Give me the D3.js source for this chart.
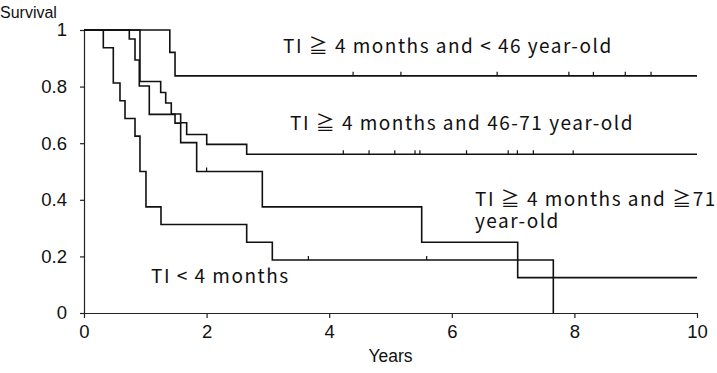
<!DOCTYPE html>
<html>
<head>
<meta charset="utf-8">
<script src="https://cdn.jsdelivr.net/npm/d3@7"></script>
<style>
  body { margin: 0; background: #fff; }
  svg { display: block; }
</style>
</head>
<body>
<div id="chart"></div>
<script>
// x / y ticks
const xTicks = [0, 2, 4, 6, 8, 10];
const yTicks = [0, 0.2, 0.4, 0.6, 0.8, 1];

// TI >= 4 months and < 46 year-old
const lt46Times = [0, 1.40, 1.485];
const lt46Surv = [1, 0.921, 0.838];
const lt46Censor = [4.39, 5.17, 6.74, 7.91, 8.31, 8.83, 9.25];

// TI >= 4 months and 46-71 year-old
const mid46Times = [0, 0.913, 1.251, 1.333, 1.424, 1.577, 1.675, 2.002, 2.654];
const mid46Surv = [1, 0.818, 0.779, 0.742, 0.703, 0.672, 0.631, 0.596, 0.561];
const mid46Censor = [4.23, 4.65, 5.07, 5.40, 5.48, 6.24, 6.92, 7.07, 7.33, 7.98];

// TI >= 4 months and >= 71 year-old
const ge71Times = [0, 0.739, 0.832, 0.902, 1.065, 1.485, 1.577, 1.838, 2.909, 5.509, 7.075];
const ge71Surv = [1, 0.968, 0.894, 0.802, 0.702, 0.671, 0.602, 0.5, 0.375, 0.25, 0.125];
const ge71Censor = [2.0];

// TI < 4 months
const lt4Times = [0, 0.315, 0.478, 0.587, 0.669, 0.832, 0.913, 1.011, 1.256, 2.654, 3.072, 7.656];
const lt4Surv = [1, 0.9375, 0.8125, 0.75, 0.6875, 0.625, 0.5, 0.375, 0.3125, 0.25, 0.1875, 0];
const lt4Censor = [3.66, 5.59];

const width = 717;
const height = 373;
const margin = { top: 30, right: 20, bottom: 60, left: 84 };

const svg = d3.select("#chart").append("svg")
  .attr("width", width)
  .attr("height", height);

const x = d3.scaleLinear().domain([0, 10]).range([margin.left, width - margin.right]);
const y = d3.scaleLinear().domain([0, 1]).range([height - margin.bottom, margin.top]);

const numFont = "'Liberation Sans', Arial, sans-serif";
const labelFont = "'Noto Sans CJK JP', 'Noto Sans', sans-serif";

// axes
svg.append("g")
  .attr("transform", `translate(${margin.left},0)`)
  .call(d3.axisLeft(y).tickValues(yTicks).tickSize(4).tickSizeOuter(0).tickPadding(13)
    .tickFormat((d) => (d === 0 || d === 1 ? String(d) : d.toFixed(1))));

svg.append("g")
  .attr("transform", `translate(0,${y(0)})`)
  .call(d3.axisBottom(x).tickValues(xTicks).tickSize(5).tickSizeOuter(0).tickPadding(7));

svg.selectAll(".tick text")
  .attr("fill", "#111")
  .style("font-family", numFont)
  .style("font-size", "18.5px");
svg.selectAll(".domain, .tick line").attr("stroke", "#222").attr("stroke-width", 1.2);

svg.append("text")
  .attr("x", 0)
  .attr("y", 18)
  .style("font-family", numFont)
  .style("font-size", "16px")
  .attr("fill", "#111")
  .text("Survival");

svg.append("text")
  .attr("x", (x(0) + x(10)) / 2)
  .attr("y", 362)
  .attr("text-anchor", "middle")
  .style("font-family", numFont)
  .style("font-size", "17.5px")
  .attr("fill", "#111")
  .text("Years");

// curves
const groups = [
  { times: lt46Times, surv: lt46Surv, censor: lt46Censor, end: 10 },
  { times: mid46Times, surv: mid46Surv, censor: mid46Censor, end: 10 },
  { times: ge71Times, surv: ge71Surv, censor: ge71Censor, end: 10 },
  { times: lt4Times, surv: lt4Surv, censor: lt4Censor, end: null },
];

const line = d3.line()
  .x((d) => x(d[0]))
  .y((d) => y(d[1]))
  .curve(d3.curveStepAfter);

groups.forEach((g) => {
  const pts = g.times.map((t, i) => [t, g.surv[i]]);
  if (g.end !== null) pts.push([g.end, g.surv[g.surv.length - 1]]);
  svg.append("path")
    .attr("d", line(pts))
    .attr("fill", "none")
    .attr("stroke", "#111")
    .attr("stroke-width", 1.6);

  // censor marks
  const stepS = (t) => {
    let s = 1;
    g.times.forEach((tt, i) => { if (tt <= t) s = g.surv[i]; });
    return s;
  };
  svg.append("g")
    .selectAll("line")
    .data(g.censor)
    .join("line")
    .attr("x1", (d) => x(d))
    .attr("x2", (d) => x(d))
    .attr("y1", (d) => y(stepS(d)))
    .attr("y2", (d) => y(stepS(d)) - 4)
    .attr("stroke", "#111")
    .attr("stroke-width", 1.2);
});

// curve labels (one entry per text block, lines as tspans)
const labels = [
  { lines: ["TI ≧ 4 months and < 46 year-old"], x: 283, y: 53 },
  { lines: ["TI ≧ 4 months and 46-71 year-old"], x: 290, y: 130 },
  { lines: ["TI ≧ 4 months and ≧71", "year-old"], x: 475, y: 206 },
  { lines: ["TI < 4 months"], x: 151, y: 283 },
];

svg.append("g")
  .selectAll("text")
  .data(labels)
  .join("text")
  .attr("x", (d) => d.x)
  .attr("y", (d) => d.y)
  .style("font-family", labelFont)
  .style("font-size", "19px")
  .style("letter-spacing", "1.5px")
  .attr("fill", "#111")
  .each(function (d) {
    d3.select(this)
      .selectAll("tspan")
      .data(d.lines)
      .join("tspan")
      .attr("x", d.x)
      .attr("dy", (l, i) => (i === 0 ? 0 : 22))
      .text((l) => l);
  });
</script>
</body>
</html>
